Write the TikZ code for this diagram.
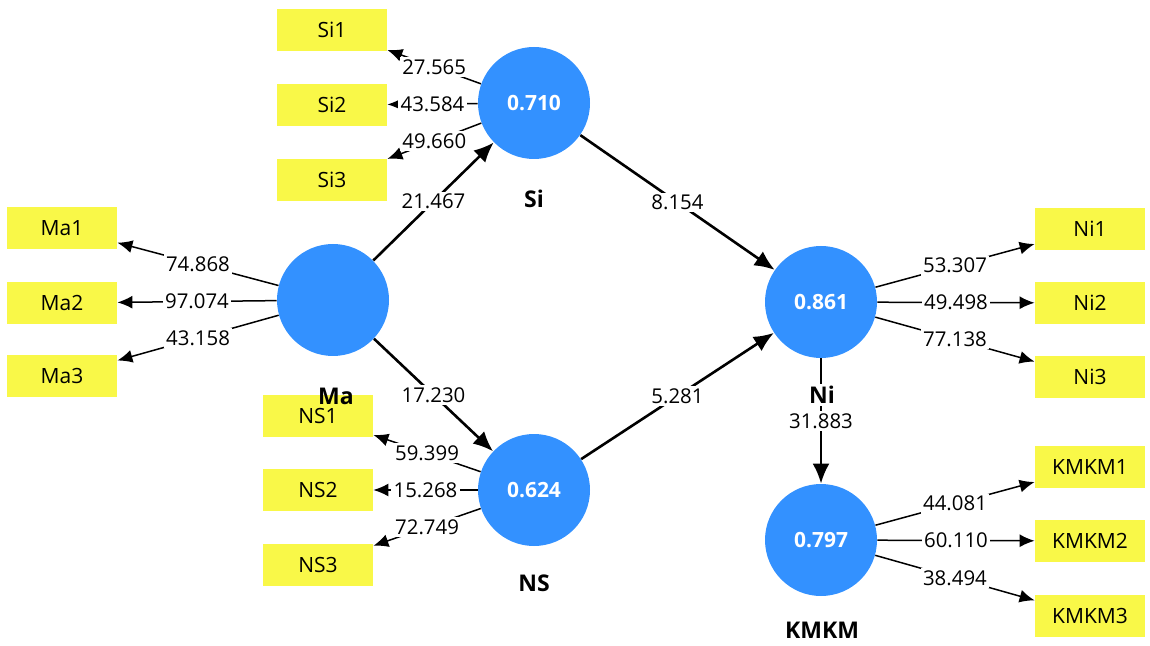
\documentclass[tikz,border=0pt]{standalone}
\usepackage{fontspec}
\setmainfont{Open Sans}
\usetikzlibrary{arrows.meta}
\definecolor{lvblue}{RGB}{51,145,255}
\definecolor{mvyellow}{RGB}{249,248,72}
\tikzset{
  latent/.style={circle,fill=lvblue,minimum size=56pt,inner sep=0pt,text=white,font=\fontsize{10.5}{12}\selectfont\bfseries},
  indicator/.style={rectangle,fill=mvyellow,minimum width=55pt,minimum height=21pt,inner sep=0pt,font=\fontsize{10.5}{12}\selectfont},
  lvname/.style={font=\fontsize{11.5}{13}\selectfont\bfseries,inner sep=1pt},
  loadline/.style={line width=0.75pt,-{Latex[length=7.5pt,width=6.5pt]}},
  pathline/.style={line width=1.3pt,-{Latex[length=10pt,width=8.5pt]}},
  coef/.style={fill=white,inner sep=1.2pt,font=\fontsize{10.2}{12}\selectfont}
}
\begin{document}
\begin{tikzpicture}[x=0.5pt,y=-0.5pt]
\useasboundingbox (0,0) rectangle (1150,646);
% latent variables
\node[latent] (Si) at (534,103) {0.710};
\node[latent] (Ma) at (333,300) {};
\node[latent] (NS) at (534,490) {0.624};
\node[latent] (Ni) at (821,302) {0.861};
\node[latent] (KMKM) at (821,540) {0.797};
% indicators
\node[indicator] (Si1) at (332,30) {Si1};
\node[indicator] (Si2) at (332,105) {Si2};
\node[indicator] (Si3) at (332,180) {Si3};
\node[indicator] (Ma1) at (62,228) {Ma1};
\node[indicator] (Ma2) at (62,303) {Ma2};
\node[indicator] (Ma3) at (62,376) {Ma3};
\node[indicator] (NS1) at (318,416) {NS1};
\node[indicator] (NS2) at (318,490) {NS2};
\node[indicator] (NS3) at (318,565) {NS3};
\node[indicator] (Ni1) at (1090,229) {Ni1};
\node[indicator] (Ni2) at (1090,303) {Ni2};
\node[indicator] (Ni3) at (1090,377) {Ni3};
\node[indicator] (KMKM1) at (1090,467) {KMKM1};
\node[indicator] (KMKM2) at (1090,541) {KMKM2};
\node[indicator] (KMKM3) at (1090,616) {KMKM3};
% outer loadings
\draw[loadline] (Si) -- node[coef]{27.565} (Si1);
\draw[loadline] (Si) -- node[coef]{43.584} (Si2);
\draw[loadline] (Si) -- node[coef]{49.660} (Si3);
\draw[loadline] (Ma) -- node[coef]{74.868} (Ma1);
\draw[loadline] (Ma) -- node[coef]{97.074} (Ma2);
\draw[loadline] (Ma) -- node[coef]{43.158} (Ma3);
\draw[loadline] (NS) -- node[coef]{59.399} (NS1);
\draw[loadline] (NS) -- node[coef]{15.268} (NS2);
\draw[loadline] (NS) -- node[coef]{72.749} (NS3);
\draw[loadline] (Ni) -- node[coef]{53.307} (Ni1);
\draw[loadline] (Ni) -- node[coef]{49.498} (Ni2);
\draw[loadline] (Ni) -- node[coef]{77.138} (Ni3);
\draw[loadline] (KMKM) -- node[coef]{44.081} (KMKM1);
\draw[loadline] (KMKM) -- node[coef]{60.110} (KMKM2);
\draw[loadline] (KMKM) -- node[coef]{38.494} (KMKM3);
% structural paths
\draw[pathline] (Ma) -- node[coef]{21.467} (Si);
\draw[pathline] (Ma) -- node[coef]{17.230} (NS);
\draw[pathline] (Si) -- node[coef]{8.154} (Ni);
\draw[pathline] (NS) -- node[coef]{5.281} (Ni);
\draw[pathline] (Ni) -- node[coef]{31.883} (KMKM);
% latent names
\node[lvname] (SiN) at (534,199) {Si};
\node[lvname] (MaN) at (336,396) {Ma};
\node[lvname] (NSN) at (534,583) {NS};
\node[lvname,fill=white] (NiN) at (822,395) {Ni};
\node[lvname] (KMKMN) at (822,630) {KMKM};
\end{tikzpicture}
\end{document}
